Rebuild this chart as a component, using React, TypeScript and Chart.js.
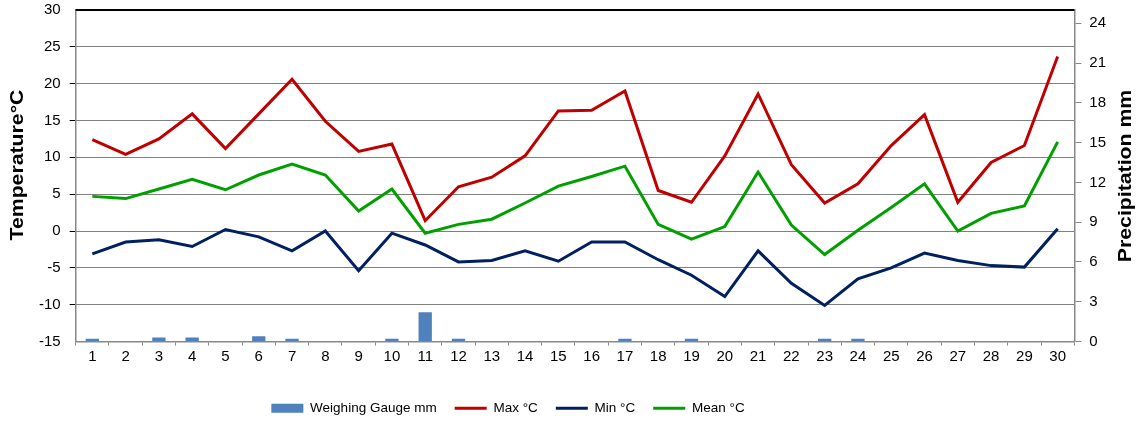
import React, { useEffect, useRef } from "react";
import { Chart, registerables } from "chart.js";

Chart.register(...registerables);

const days = ["1","2","3","4","5","6","7","8","9","10","11","12","13","14","15","16","17","18","19","20","21","22","23","24","25","26","27","28","29","30"];

const precipMm = [0.2,0,0.3,0.3,0,0.4,0.2,0,0,0.2,2.2,0.2,0,0,0,0,0.2,0,0.2,0,0,0,0.2,0.2,0,0,0,0,0,0];

const maxC = [12.4,10.4,12.5,15.9,11.2,15.9,20.6,14.9,10.8,11.8,1.4,6.0,7.3,10.2,16.3,16.4,19.0,5.5,3.9,10.2,18.6,9.0,3.8,6.4,11.6,15.8,3.9,9.3,11.6,23.7];

const minC = [-3.1,-1.5,-1.2,-2.1,0.2,-0.8,-2.7,0.0,-5.4,-0.3,-1.9,-4.2,-4.0,-2.7,-4.1,-1.5,-1.5,-3.9,-6.0,-8.9,-2.7,-7.1,-10.1,-6.5,-5.0,-3.0,-4.0,-4.7,-4.9,0.3];

const meanC = [4.7,4.4,5.7,7.0,5.6,7.6,9.1,7.6,2.7,5.7,-0.3,0.9,1.6,3.8,6.1,7.4,8.8,0.9,-1.1,0.6,8.0,0.8,-3.2,0.1,3.2,6.4,0.0,2.4,3.4,12.1];

const precipTicks = [0, 3, 6, 9, 12, 15, 18, 21, 24];

const seriesNames = ["Weighing Gauge mm", "Max °C", "Min °C", "Mean °C"];
const leftTitle = "Temperature°C";
const rightTitle = "Precipitation mm";

const LEGEND_SHIFT_X = -64;
const LEGEND_SHIFT_Y = 16;
const FONT = "'Liberation Sans', Arial, sans-serif";

function drawVerticalTitle(ctx: any, text: string, x: number, y: number) {
  ctx.save();
  ctx.translate(x, y);
  ctx.rotate(-Math.PI / 2);
  ctx.scale(1.18, 1);
  ctx.font = `bold 18px ${FONT}`;
  ctx.fillStyle = "#000";
  ctx.textAlign = "center";
  ctx.textBaseline = "middle";
  ctx.fillText(text, 0, 0);
  ctx.restore();
}

const fixTopPadding = (scale: any) => {
  scale.paddingTop = 10;
  scale.paddingBottom = 0;
};

const decorPlugin = {
  id: "decor",
  afterLayout(chart: any) {
    if (chart.legend) {
      chart.legend.left += LEGEND_SHIFT_X;
      chart.legend.right += LEGEND_SHIFT_X;
      chart.legend.top += LEGEND_SHIFT_Y;
      chart.legend.bottom += LEGEND_SHIFT_Y;
    }
  },
  beforeDatasetsDraw(chart: any) {
    const { ctx, chartArea } = chart;
    ctx.save();
    ctx.strokeStyle = "#000";
    ctx.lineWidth = 2;
    ctx.beginPath();
    ctx.moveTo(chartArea.left, chartArea.top);
    ctx.lineTo(chartArea.right, chartArea.top);
    ctx.stroke();
    ctx.restore();
  },
  afterDraw(chart: any) {
    const { ctx } = chart;
    drawVerticalTitle(ctx, leftTitle, 18, 165);
    drawVerticalTitle(ctx, rightTitle, 1126, 176);
  },
};

export default function App() {
  const canvasRef = useRef<HTMLCanvasElement | null>(null);

  useEffect(() => {
    document.body.style.margin = "0";
    const canvas = canvasRef.current;
    if (!canvas) return;
    const chart = new Chart(canvas, {
      type: "bar",
      data: {
        labels: days,
        datasets: [
          {
            type: "bar",
            label: seriesNames[0],
            data: precipMm,
            yAxisID: "y1",
            backgroundColor: "#4F81BD",
            borderWidth: 0,
            barPercentage: 0.4,
            categoryPercentage: 1,
          } as any,
          {
            type: "line",
            label: seriesNames[1],
            data: maxC,
            yAxisID: "y",
            borderColor: "#C00000",
            backgroundColor: "#C00000",
            borderWidth: 3,
            pointRadius: 0,
            tension: 0,
          },
          {
            type: "line",
            label: seriesNames[2],
            data: minC,
            yAxisID: "y",
            borderColor: "#002060",
            backgroundColor: "#002060",
            borderWidth: 3,
            pointRadius: 0,
            tension: 0,
          },
          {
            type: "line",
            label: seriesNames[3],
            data: meanC,
            yAxisID: "y",
            borderColor: "#00A000",
            backgroundColor: "#00A000",
            borderWidth: 3,
            pointRadius: 0,
            tension: 0,
          },
        ],
      },
      options: {
        responsive: false,
        animation: false,
        events: [],
        layout: { padding: { top: 0, right: 30, bottom: 14, left: 30 } },
        plugins: {
          tooltip: { enabled: false },
          legend: {
            position: "bottom",
            labels: {
              usePointStyle: true,
              pointStyleWidth: 32,
              boxWidth: 32,
              boxHeight: 9,
              padding: 18,
              color: "#000",
              font: { size: 13.5, family: FONT },
              generateLabels: (chart: any) =>
                chart.data.datasets.map((ds: any, i: number) => ({
                  text: ds.label,
                  datasetIndex: i,
                  fillStyle: ds.backgroundColor,
                  strokeStyle: ds.borderColor,
                  lineWidth: i === 0 ? 0 : 3,
                  pointStyle: i === 0 ? "rect" : "line",
                  hidden: false,
                  fontColor: "#000",
                })),
            },
          },
        },
        scales: {
          x: {
            type: "category",
            offset: true,
            grid: {
              offset: true,
              drawOnChartArea: false,
              drawTicks: true,
              tickLength: 4,
              color: "#888",
            },
            border: { color: "#888", width: 1.5 },
            ticks: {
              color: "#000",
              font: { size: 15, family: FONT },
              maxRotation: 0,
              autoSkip: false,
              padding: 2,
            },
          },
          y: {
            position: "left",
            min: -15,
            max: 30,
            afterFit: fixTopPadding,
            grid: {
              color: (c: any) =>
                c.tick && (c.tick.value === 30 || c.tick.value === -15) ? "rgba(0,0,0,0)" : "#000",
              tickLength: 6,
              lineWidth: 1,
            },
            border: { color: "#888", width: 1.5, dash: [1, 1] },
            ticks: {
              stepSize: 5,
              color: "#000",
              font: { size: 15, family: FONT },
              padding: 9,
            },
          },
          y1: {
            position: "right",
            min: 0,
            max: 25,
            afterFit: fixTopPadding,
            afterBuildTicks: (scale: any) => {
              scale.ticks = precipTicks.map((v) => ({ value: v }));
            },
            grid: {
              drawOnChartArea: false,
              tickLength: 7,
              color: "#888",
            },
            border: { color: "#888", width: 1.5 },
            ticks: {
              color: "#000",
              font: { size: 15, family: FONT },
              padding: 8,
            },
          },
        },
      } as any,
      plugins: [decorPlugin],
    });
    return () => chart.destroy();
  }, []);

  return (
    <div style={{ width: 1144, height: 423 }}>
      <canvas ref={canvasRef} width={1144} height={423} />
    </div>
  );
}
